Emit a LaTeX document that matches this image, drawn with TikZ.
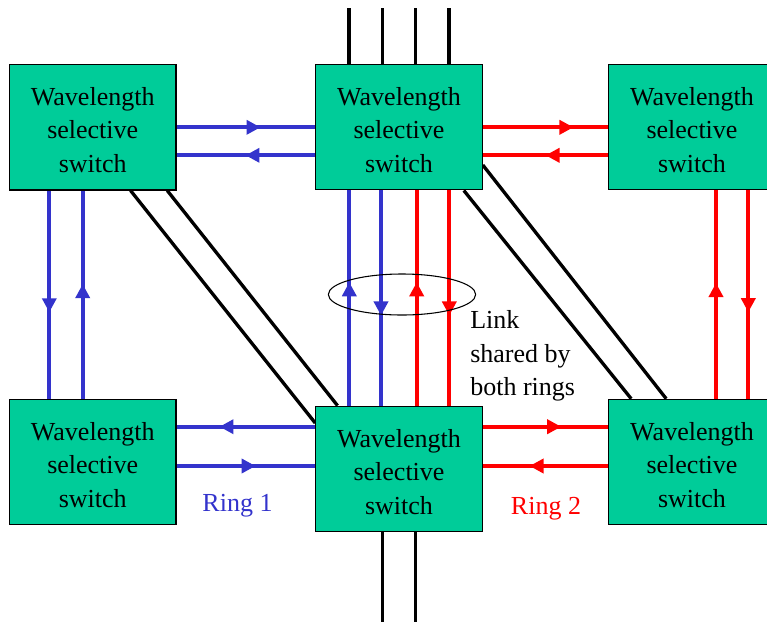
\documentclass[tikz,border=0pt]{standalone}
\usepackage{fontspec}
\setmainfont{Liberation Serif}
\usetikzlibrary{arrows.meta,calc,decorations.markings,shapes.geometric,backgrounds}
\definecolor{wssgreen}{RGB}{0,204,153}
\definecolor{ringblue}{RGB}{51,51,204}
\definecolor{ringred}{RGB}{255,0,0}
% three-line switch caption; the strut lowers the block slightly in its box
\newcommand\wsstext{\rule{0pt}{17.8pt}Wavelength\\selective\\switch}
\tikzset{
  wss/.style={draw=black, line width=0.8pt, fill=wssgreen,
    minimum width=124.9pt, minimum height=94.1pt, inner sep=0pt,
    align=center, font=\fontsize{19.5pt}{25.1pt}\selectfont},
  fibre/.style={line width=3pt},
  blueline/.style={fibre, color=ringblue},
  redline/.style={fibre, color=ringred},
  blackline/.style={line width=2.5pt, color=black},
  flow/.style={postaction={decorate},
    decoration={markings,
      mark=at position #1 with {\arrow{Triangle[length=10.5pt,width=10.5pt]}}}},
  lbltext/.style={font=\fontsize{19.5pt}{25.1pt}\selectfont, inner sep=0pt},
}
\begin{document}
\begin{tikzpicture}[x=0.75pt,y=-0.75pt]
\useasboundingbox (0,0) rectangle (767,622);

% switches
\node[wss] (TL) at (92.75,127.25) {\wsstext};
\node[wss] (TM) at (399,127.2)    {\wsstext};
\node[wss] (TR) at (692,127.2)    {\wsstext};
\node[wss] (BL) at (92.75,462)    {\wsstext};
\node[wss] (BM) at (399,468.85)   {\wsstext};
\node[wss] (BR) at (692,462)      {\wsstext};

% rows and columns of the fibre pairs
\coordinate (rowTa) at (0,127.3);
\coordinate (rowTb) at (0,155.3);
\coordinate (rowBa) at (0,426.7);
\coordinate (rowBb) at (0,466);
\coordinate (colL1) at (49.3,0);
\coordinate (colL2) at (82.7,0);
\coordinate (colM1) at (349.3,0);
\coordinate (colM2) at (381,0);
\coordinate (colM3) at (416.7,0);
\coordinate (colM4) at (449.3,0);
\coordinate (colR1) at (716,0);
\coordinate (colR2) at (748.3,0);

% free ends of the add/drop fibres
\coordinate (in1) at (349,8.3);
\coordinate (in2) at (382.3,8.3);
\coordinate (in3) at (415.7,8.3);
\coordinate (in4) at (449,8.3);
\coordinate (out1) at (382.3,622);
\coordinate (out2) at (415.7,622);

\begin{scope}[on background layer]
  % add/drop fibres
  \foreach \p in {in1,in2,in3,in4}
    \draw[blackline] (\p) -- (\p |- TM.north);
  \foreach \p in {out1,out2}
    \draw[blackline] (\p |- BM.south) -- (\p);

  % diagonal fibres
  \draw[blackline] ($(TL.south east)+(-46,0)$) -- ($(BM.west)+(0,-45.85)$);
  \draw[blackline] ($(TL.south east)+(-9.3,0)$) -- ($(BM.north west)+(22.3,0)$);
  \draw[blackline] ($(TM.south east)+(-19,0)$) -- ($(BR.north west)+(23,0)$);
  \draw[blackline] ($(TM.east)+(0,37.8)$) -- ($(BR.north west)+(58,0)$);

  % ring 1 (blue)
  \draw[blueline, flow=63pt]   (TL.east |- rowTa) -- (TM.west |- rowTa);
  \draw[blueline, flow=52.3pt] (TM.west |- rowTb) -- (TL.east |- rowTb);
  \draw[blueline, flow=71.8pt] (BM.west |- rowBa) -- (BL.east |- rowBa);
  \draw[blueline, flow=59.3pt] (BL.east |- rowBb) -- (BM.west |- rowBb);
  \draw[blueline, flow=91.3pt] (TL.south -| colL1) -- (BL.north -| colL1);
  \draw[blueline, flow=86pt]   (BL.north -| colL2) -- (TL.south -| colL2);
  \draw[blueline, flow=92.5pt] (BM.north -| colM1) -- (TM.south -| colM1);
  \draw[blueline, flow=93.75pt] (TM.south -| colM2) -- (BM.north -| colM2);

  % ring 2 (red)
  \draw[redline, flow=68pt]    (TM.east |- rowTa) -- (TR.west |- rowTa);
  \draw[redline, flow=47pt]    (TR.west |- rowTb) -- (TM.east |- rowTb);
  \draw[redline, flow=58.8pt]  (BM.east |- rowBa) -- (BR.west |- rowBa);
  \draw[redline, flow=59pt]    (BR.west |- rowBb) -- (BM.east |- rowBb);
  \draw[redline, flow=92.5pt]  (BM.north -| colM3) -- (TM.south -| colM3);
  \draw[redline, flow=93.75pt] (TM.south -| colM4) -- (BM.north -| colM4);
  \draw[redline, flow=86.8pt]  (BR.north -| colR1) -- (TR.south -| colR1);
  \draw[redline, flow=91.3pt]  (TR.south -| colR2) -- (BR.north -| colR2);
\end{scope}

% shared link marker and labels
\node[draw, ellipse, line width=0.8pt, minimum width=110.5pt,
      minimum height=30.75pt, inner sep=0pt] (shared) at (402,294.5) {};
\node[lbltext, align=left, anchor=north west] (note) at (470,310.5)
  {Link\\shared by\\both rings};
\node[lbltext, text=ringblue, anchor=base] (ring1) at (237.5,511.7) {Ring 1};
\node[lbltext, text=ringred, anchor=base] (ring2) at (546,514.3) {Ring 2};
\end{tikzpicture}
\end{document}
